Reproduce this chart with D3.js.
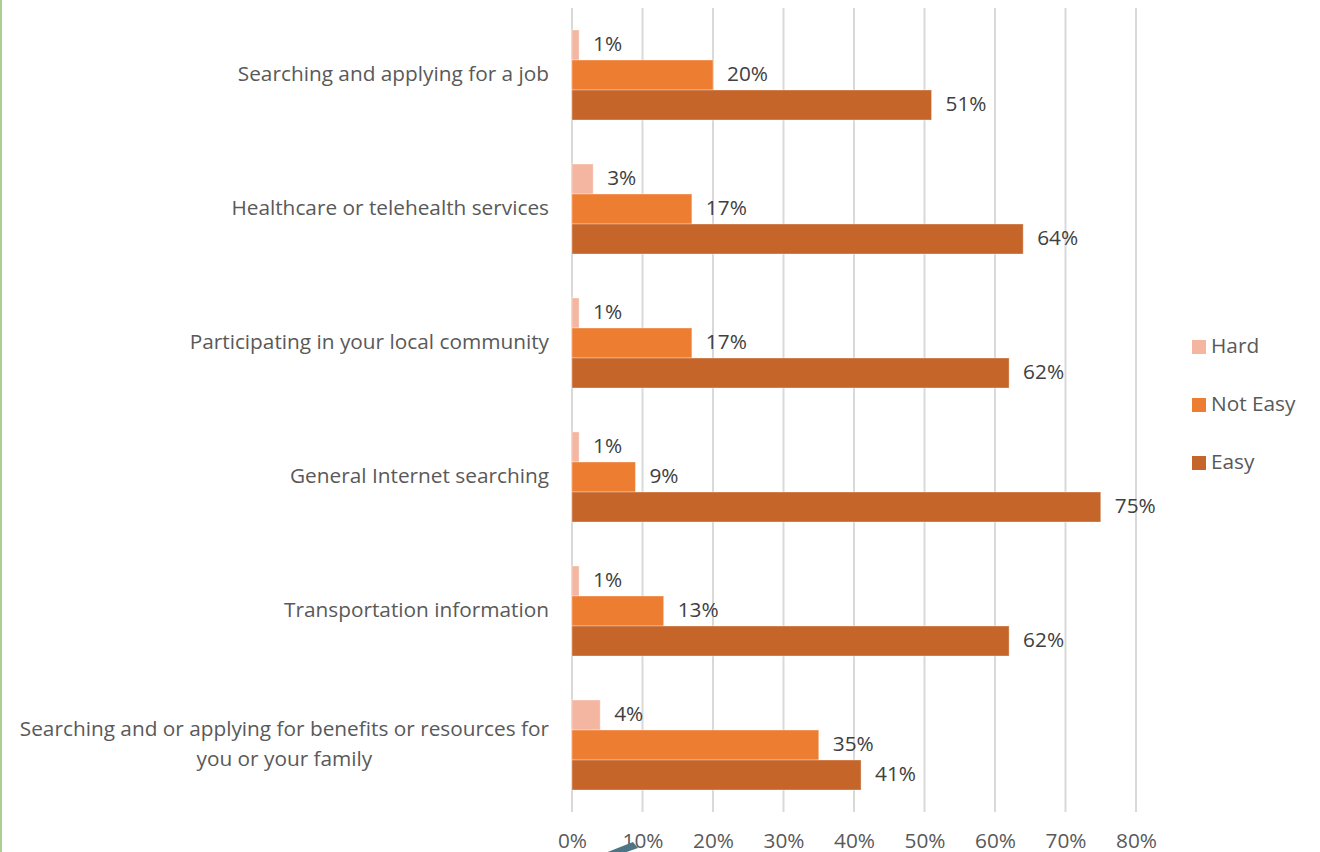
<!DOCTYPE html>
<html lang="en">
<head>
    <meta charset="UTF-8">
    <title>Ease of online tasks</title>
    <style>
        body { margin: 0; background: #fff; }
        svg { display: block; font-family: "Open Sans", "Noto Sans", sans-serif; }
    </style>
</head>
<body>
    <script src="https://d3js.org/d3.v7.min.js"></script>
    <script>
        // Chart data
        let categories = [
            "Searching and applying for a job",
            "Healthcare or telehealth services",
            "Participating in your local community",
            "General Internet searching",
            "Transportation information",
            "Searching and or applying for benefits or resources for you or your family"
        ];
        let seriesNames = ["Hard", "Not Easy", "Easy"];
        let hard = [1, 3, 1, 1, 1, 4];
        let notEasy = [20, 17, 17, 9, 13, 35];
        let easy = [51, 64, 62, 75, 62, 41];
        let tickValues = [0, 10, 20, 30, 40, 50, 60, 70, 80];

        let colors = ["#f4b6a0", "#ed7d31", "#c5652a"];
        let values = [hard, notEasy, easy];

        let width = 1320, height = 852;
        let plot = {left: 572, right: 1136, top: 8, bottom: 812};
        let fontSize = '20.8px';

        let svg = d3.select('body')
            .append('svg')
            .attr('width', width)
            .attr('height', height);

        // Scales
        let x = d3.scaleLinear().domain([0, 80]).range([plot.left, plot.right]);
        let y = d3.scaleBand().domain(categories).range([plot.top, plot.bottom])
            .paddingInner(44 / 134).paddingOuter(22 / 134);
        let ySub = d3.scaleBand().domain(seriesNames).range([0, y.bandwidth()]);

        // green edge on the left
        svg.append('line')
            .attr('x1', 1).attr('x2', 1).attr('y1', 0).attr('y2', height)
            .attr('stroke', '#a9d18e').attr('stroke-width', 2);

        // Gridlines
        svg.append('g')
            .selectAll('line')
            .data(tickValues)
            .enter()
            .append('line')
            .attr('x1', d => x(d)).attr('x2', d => x(d))
            .attr('y1', plot.top).attr('y2', plot.bottom)
            .attr('stroke', '#d9d9d9')
            .attr('stroke-width', 2);

        // X axis labels (cut by the bottom edge, as in the original)
        let xAxis = d3.axisBottom(x)
            .tickValues(tickValues)
            .tickFormat(d => d + '%')
            .tickSize(0)
            .tickPadding(0);
        let gx = svg.append('g')
            .attr('transform', 'translate(0,' + 833 + ')')
            .call(xAxis);
        gx.select('.domain').remove();
        gx.selectAll('text')
            .attr('font-size', fontSize)
            .attr('font-family', '"Open Sans", sans-serif')
            .attr('fill', '#595959');

        // Category labels
        let catG = svg.append('g');
        categories.forEach(function(c) {
            let cy = y(c) + y.bandwidth() / 2;
            let lines = c.startsWith("Searching and or")
                ? ["Searching and or applying for benefits or resources for", "you or your family"]
                : [c];
            let t = catG.append('text')
                .attr('x', 549)
                .attr('y', cy - (lines.length - 1) * 15)
                .attr('text-anchor', 'end')
                .attr('dominant-baseline', 'middle')
                .attr('font-size', fontSize)
                .attr('fill', '#595959');
            lines.forEach(function(l, i) {
                t.append('tspan')
                    .attr('x', 549)
                    .attr('dy', i === 0 ? 0 : 30)
                    .text(l);
            });
            if (lines.length > 1) {
                // wrapped lines are centred on each other
                let w = t.select('tspan').node().getComputedTextLength();
                t.attr('text-anchor', 'middle');
                t.selectAll('tspan').attr('x', 549 - w / 2);
            }
        });

        // Bars
        seriesNames.forEach(function(s, si) {
            let g = svg.append('g');
            g.selectAll('rect')
                .data(categories)
                .enter()
                .append('rect')
                .attr('x', x(0))
                .attr('y', (d) => y(d) + ySub(s))
                .attr('width', (d, i) => x(values[si][i]) - x(0))
                .attr('height', ySub.bandwidth())
                .attr('fill', colors[si])
                .attr('stroke', '#fff')
                .attr('stroke-opacity', 0.35)
                .attr('stroke-width', 1);

            g.selectAll('text')
                .data(categories)
                .enter()
                .append('text')
                .attr('x', (d, i) => x(values[si][i]) + 14)
                .attr('y', (d) => y(d) + ySub(s) + ySub.bandwidth() / 2)
                .attr('dominant-baseline', 'middle')
                .attr('font-size', fontSize)
                .attr('fill', '#404040')
                .text((d, i) => values[si][i] + '%');
        });

        // Legend
        let legend = svg.append('g');
        seriesNames.forEach(function(s, i) {
            let ly = 347 + i * 58;
            legend.append('rect')
                .attr('x', 1192).attr('y', ly - 7)
                .attr('width', 14).attr('height', 14)
                .attr('fill', colors[i]);
            legend.append('text')
                .attr('x', 1211).attr('y', ly)
                .attr('dominant-baseline', 'middle')
                .attr('font-size', fontSize)
                .attr('fill', '#595959')
                .text(s);
        });

        // stray connector shape at the bottom edge
        svg.append('path')
            .attr('d', 'M595,857 L633,842 L638,848 L601,861 Z')
            .attr('fill', '#4e7585');
    </script>
</body>
</html>
